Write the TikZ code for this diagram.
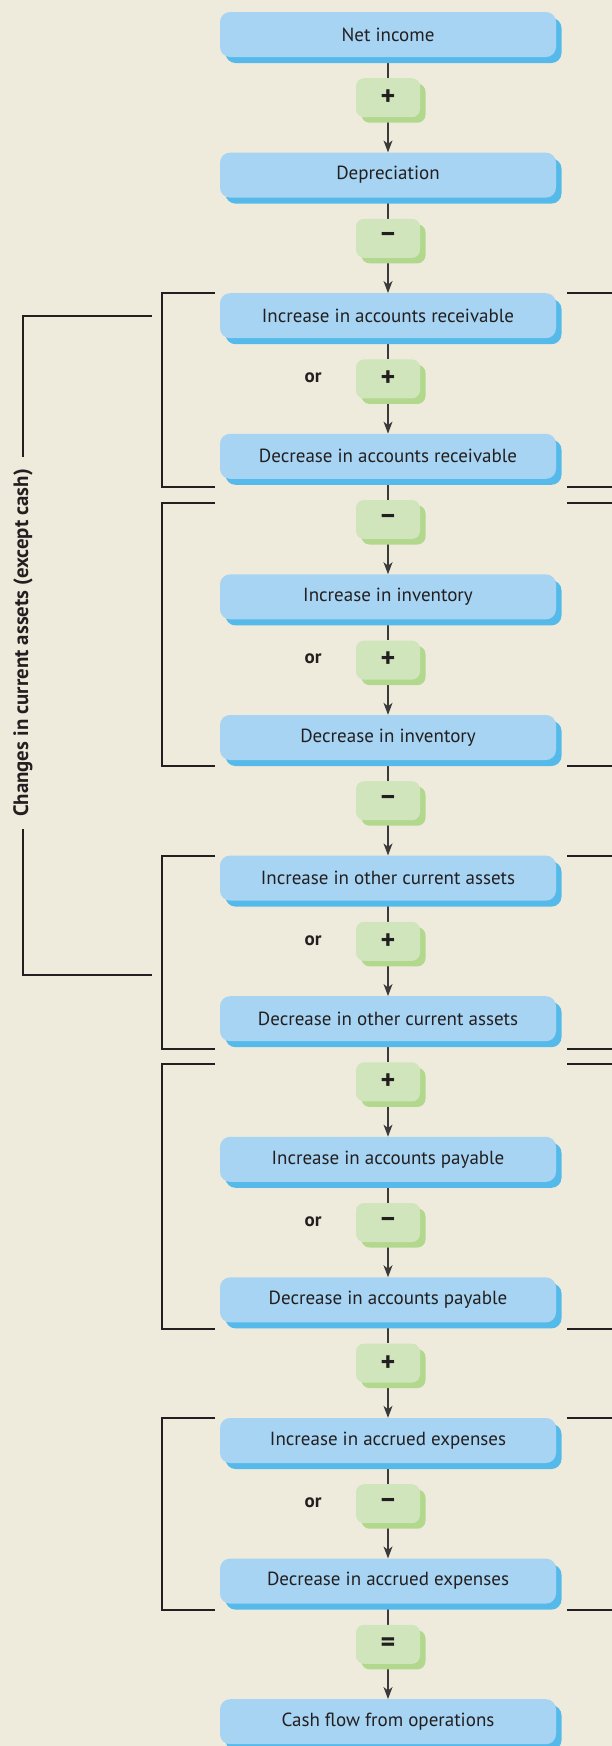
\documentclass[tikz,border=0pt]{standalone}
\usepackage{fontspec}
\setmainfont{PT Sans}
\usetikzlibrary{arrows.meta,shadows}
\definecolor{bgc}{HTML}{EEEBDD}
\definecolor{bluef}{HTML}{A6D4F2}
\definecolor{blues}{HTML}{55BAEA}
\definecolor{greenf}{HTML}{D0E5BC}
\definecolor{greens}{HTML}{B2D88E}
\definecolor{txt}{HTML}{231F20}
\definecolor{linec}{HTML}{3A3A3A}
\pgfdeclarelayer{bg}
\pgfdeclarelayer{back}
\pgfsetlayers{bg,back,main}
\tikzset{
  bluebox/.style={fill=bluef, rounded corners=10pt, minimum width=336pt,
    minimum height=45pt, inner sep=0pt, text=txt,
    font=\fontsize{19}{22}\selectfont,
    drop shadow={shadow xshift=5.5pt, shadow yshift=-6pt, fill=blues, opacity=1}},
  greenbox/.style={fill=greenf, rounded corners=8pt, minimum width=64pt,
    minimum height=39pt, inner sep=0pt, text=txt,
    font=\bfseries\fontsize{28}{30}\selectfont,
    drop shadow={shadow xshift=5.5pt, shadow yshift=-5.5pt, fill=greens, opacity=1}},
  orlbl/.style={text=txt, font=\bfseries\fontsize{19}{22}\selectfont, inner sep=0pt},
  conn/.style={draw=linec, line width=1.2pt},
  arr/.style={conn, -{Stealth[length=12pt, width=9pt, inset=3.5pt]}},
  brk/.style={draw=txt, line width=1.2pt}
}
\begin{document}
\begin{tikzpicture}[x=1pt, y=-1pt]
\begin{pgfonlayer}{bg}
\fill[bgc] (0,0) rectangle (612,1746);
\end{pgfonlayer}
\useasboundingbox (0,0) rectangle (612,1746);

\foreach \i/\t in {0/Net income, 1/Depreciation, 2/Increase in accounts receivable,
  3/Decrease in accounts receivable, 4/Increase in inventory, 5/Decrease in inventory,
  6/Increase in other current assets, 7/Decrease in other current assets,
  8/Increase in accounts payable, 9/Decrease in accounts payable,
  10/Increase in accrued expenses, 11/Decrease in accrued expenses,
  12/Cash flow from operations}
  \node[bluebox] (b\i) at (388, {34.5+140.6*\i}) {\t};

\foreach \i/\s in {0/+, 1/−, 2/+, 3/−, 4/+, 5/−, 6/+, 7/+, 8/−, 9/+, 10/−, 11/=}
  \node[greenbox] (g\i) at (388, {97.7+140.6*\i}) {\s};

\foreach \i in {2,4,6,8,10}
  \node[orlbl] (or\i) at ([xshift=-75pt,yshift=1pt]g\i.center) {or};

\begin{pgfonlayer}{back}
\foreach \i in {0,...,11}{
  \pgfmathtruncatemacro\j{\i+1}
  \draw[conn] (b\i.south) -- (g\i.north);
  \draw[arr] (g\i.south) -- (b\j.north);
}
\end{pgfonlayer}

% group brackets
\foreach \ta/\tb in {293/487, 503/766, 856/1049, 1064/1329, 1418/1610}{
  \draw[brk] (215,\ta) -- (162,\ta) -- (162,\tb) -- (215,\tb);
  \draw[brk] (567,\ta) -- (613,\ta);
  \draw[brk] (567,\tb) -- (613,\tb);
}

% outer bracket and label
\node[rotate=90, text=txt, font=\bfseries\fontsize{20.8}{24}\selectfont,
  inner xsep=12pt, inner ysep=0pt] (lbl) at (23,643) {Changes in current assets (except cash)};
\draw[brk] (152,316) -- (23,316) -- (lbl.east);
\draw[brk] (lbl.west) -- (23,975) -- (152,975);
\end{tikzpicture}
\end{document}
